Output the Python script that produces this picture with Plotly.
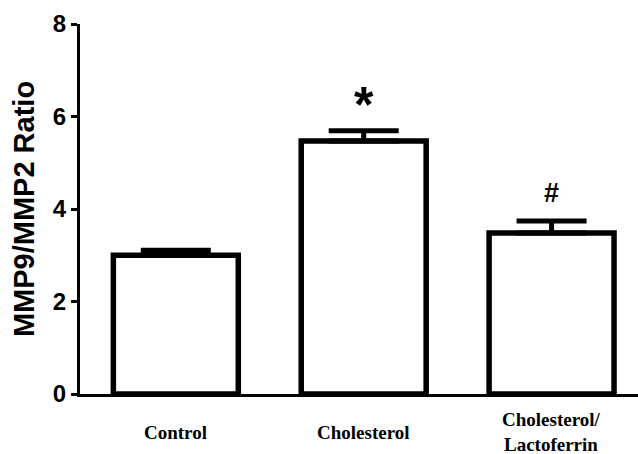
import plotly.graph_objects as go

categories = ["Control", "Cholesterol", "Cholesterol/<br>Lactoferrin"]
values = [3.0, 5.47, 3.48]
errors = [0.11, 0.22, 0.26]
marks = ["", "*", "#"]
y_ticks = [0, 2, 4, 6, 8]

x_idx = list(range(len(categories)))

fig = go.Figure()
fig.add_trace(go.Bar(
    x=x_idx, y=values, width=0.665,
    marker=dict(color="white", line=dict(color="black", width=5.5)),
    error_y=dict(type="data", array=errors, arrayminus=[0]*len(errors), symmetric=False,
                 color="black", thickness=5, width=35),
    showlegend=False,
))

annotations = []
for i, (v, e, m) in enumerate(zip(values, errors, marks)):
    if m == "*":
        annotations.append(dict(
            x=i, y=v + e, xref="x", yref="y", text="<b>*</b>", showarrow=False,
            yanchor="bottom", yshift=-4,
            font=dict(family="Liberation Sans", size=50, color="black"),
        ))
    elif m:
        annotations.append(dict(
            x=i, y=v + e, xref="x", yref="y", text="<b>" + m + "</b>", showarrow=False,
            yanchor="bottom", yshift=11,
            font=dict(family="Liberation Sans", size=27, color="black"),
        ))
for i, c in enumerate(categories):
    annotations.append(dict(
        x=i, y=0, xref="x", yref="y", text="<b>" + c + "</b>", showarrow=False,
        yanchor="middle", yshift=-38,
        font=dict(family="Liberation Serif", size=19, color="black"),
    ))

fig.update_layout(
    width=638, height=454,
    margin=dict(l=80, r=0, t=24, b=60),
    plot_bgcolor="white", paper_bgcolor="white",
    annotations=annotations,
    xaxis=dict(range=[-0.51, 2.46], showgrid=False, zeroline=False,
               showline=True, linecolor="black", linewidth=3,
               showticklabels=False, ticks=""),
    yaxis=dict(range=[0, 8], tickvals=y_ticks, showgrid=False, zeroline=False,
               showline=True, linecolor="black", linewidth=3,
               ticks="outside", ticklen=6, tickwidth=3, tickcolor="black",
               tickfont=dict(family="Liberation Sans", size=24, color="black", weight="bold"),
               title=dict(text="<b>MMP9/MMP2 Ratio</b>", standoff=10,
                          font=dict(family="Liberation Sans", size=29, color="black"))),
)

fig.write_html("out.html")
